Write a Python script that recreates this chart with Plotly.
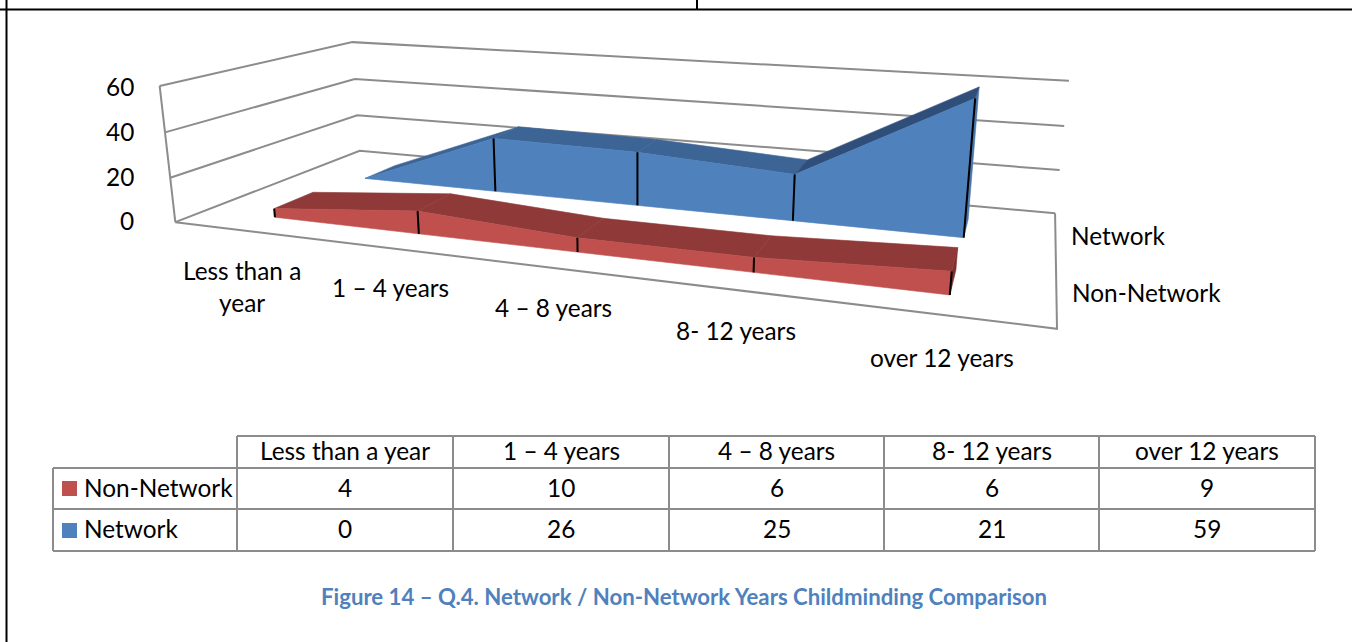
import numpy as np
import plotly.graph_objects as go

categories = ["Less than a year", "1 – 4 years", "4 – 8 years", "8- 12 years", "over 12 years"]
non_network = [4, 10, 6, 6, 9]
network = [0, 26, 25, 21, 59]
z_ticks = [0, 20, 40, 60]
z_max = 60
series_names = ["Non-Network", "Network"]
caption = "Figure 14 – Q.4. Network / Non-Network Years Childminding Comparison"

# Camera calibration: box corner (x, y, z in 0..1) -> page pixel
anchors = [((0,0,0),(175,222)),((0,0,1),(160,86)),((0,1,0),(360,151)),((0,1,1),(352,42)),
           ((1,1,0),(1055,213)),((1,1,1),(1069,81)),((1,0,0),(1057,329))]
A=[];b=[]
for (x,y,z),(u,v) in anchors:
    A.append([x,y,z,1,0,0,0,0,-u*x,-u*y,-u*z]);b.append(u)
    A.append([0,0,0,0,x,y,z,1,-v*x,-v*y,-v*z]);b.append(v)
p=np.linalg.lstsq(np.array(A,float),np.array(b,float),rcond=None)[0]
P=np.append(p,1.0).reshape(3,4)
def proj(x,y,z):
    q=P@np.array([x,y,z,1.0]);return q[0]/q[2],q[1]/q[2]

xs=[0.1,0.3,0.5,0.7,0.9]
red_y=(0.145,0.345); blue_y=(0.645,0.84)
GRID="#8c8c8c"; FONT="Lato"; FS=24.4
fig=go.Figure()

def line(pts,color=GRID,width=2):
    u,v=zip(*pts)
    fig.add_trace(go.Scatter(x=u,y=v,mode="lines",line=dict(color=color,width=width),hoverinfo="skip",showlegend=False))
def poly(pts,color):
    u,v=zip(*pts)
    fig.add_trace(go.Scatter(x=list(u)+[u[0]],y=list(v)+[v[0]],mode="lines",fill="toself",fillcolor=color,
        line=dict(width=0.6,color=color),hoverinfo="skip",showlegend=False))

# walls: gridlines on the left and back walls, floor outline
for t in z_ticks:
    z=t/z_max
    line([proj(0,0,z),proj(0,1,z),proj(1,1,z)])
line([proj(0,0,0),proj(0,0,1)])
line([proj(0,0,0),proj(1,0,0),proj(1,1,0)])

def series(vals,yr,front,top,cap):
    y0,y1=yr;z=[v/z_max for v in vals]
    poly([proj(xs[-1],y0,z[-1]),proj(xs[-1],y1,z[-1]),proj(xs[-1],y1,0),proj(xs[-1],y0,0)],cap)
    for i in range(4):
        poly([proj(xs[i],y0,z[i]),proj(xs[i],y1,z[i]),proj(xs[i+1],y1,z[i+1]),proj(xs[i+1],y0,z[i+1])],top[i])
    poly([proj(xs[i],y0,z[i]) for i in range(5)]+[proj(xs[-1],y0,0),proj(xs[0],y0,0)],front)
    for i in range(5):
        if z[i]>0:
            line([proj(xs[i],y0,z[i]),proj(xs[i],y0,0)],"#000000",2)
series(network,blue_y,"#4f81bd",["#3c6596"]*3+["#2f4f7a"],"#4a76ab")
series(non_network,red_y,"#c0504d",["#8f3a38"]*4,"#7f2f2d")

ann=[]
def text(x,y,s,anchor="center",size=FS,color="#000000",bold=False):
    ann.append(dict(x=x,y=y,text=f"<b>{s}</b>" if bold else s,showarrow=False,xanchor=anchor,yanchor="middle",
                    font=dict(family=FONT,size=size,color=color),align="center"))

# axis labels
for t,(yy) in zip(z_ticks,[220,176,131,86]):
    text(135.5,yy,str(t),"right")
cat_pos=[(242,286),(390,287.5),(553,307.5),(736,330.5),(942,357.5)]
cat_text=["Less than a<br>year"]+categories[1:]
for s,(cx,cy) in zip(cat_text,cat_pos):
    text(cx,cy,s)
text(1068.5,235.5,series_names[1],"left")
text(1069.5,292.5,series_names[0],"left")

# data table
shapes=[]
def seg(x0,y0,x1,y1,color=GRID,w=2):
    shapes.append(dict(type="line",x0=x0,y0=y0,x1=x1,y1=y1,line=dict(color=color,width=w),layer="above"))
col_x=[237,453,669,884,1099,1315]
row_y=[436,468,509,551]
left=53
seg(col_x[0],row_y[0],col_x[-1],row_y[0])
seg(left,row_y[1],col_x[-1],row_y[1])
seg(left,row_y[2],col_x[-1],row_y[2])
seg(left,row_y[3],col_x[-1],row_y[3])
seg(left,row_y[1],left,row_y[3])
for cx in col_x:
    seg(cx,row_y[0],cx,row_y[3])
for i,c in enumerate(categories):
    mid=(col_x[i]+col_x[i+1])/2
    text(mid,450.5,c)
    text(mid,487.5,str(non_network[i]))
    text(mid,528.5,str(network[i]))
text(81.5,487,series_names[0],"left")
text(81.5,528,series_names[1],"left")
for (y0,y1,c) in [(481,496,"#c0504d"),(523,538,"#4f81bd")]:
    shapes.append(dict(type="rect",x0=62,x1=77,y0=y0,y1=y1,fillcolor=c,line=dict(width=0)))

text(683.5,596.5,caption,"center",22.2,"#4f81bd",True)

# page frame behind the chart
seg(0,9.5,1352,9.5,"#000000",2)
seg(6.5,0,6.5,642,"#000000",2)
seg(697,0,697,9,"#000000",2)

fig.update_layout(width=1352,height=642,margin=dict(l=0,r=0,t=0,b=0),paper_bgcolor="white",plot_bgcolor="white",
    xaxis=dict(range=[0,1352],visible=False),yaxis=dict(range=[642,0],visible=False),annotations=ann,shapes=shapes)
fig.write_html("out.html",config=dict(displayModeBar=False),post_script="document.body.style.margin='0'")
